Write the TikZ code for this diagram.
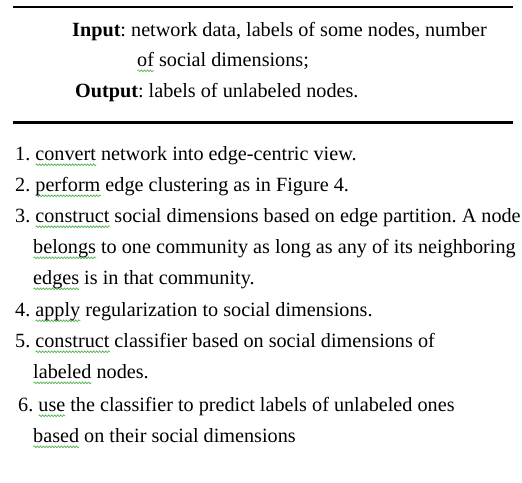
\documentclass[tikz,border=0pt]{standalone}
\usepackage{fontspec}
\setmainfont{Liberation Serif}
\usetikzlibrary{positioning,decorations.pathmorphing}

\definecolor{spellgreen}{RGB}{60,170,60}
\newlength\spellwd
% wavy spell-check underline
\newcommand\spell[1]{\settowidth\spellwd{#1}\rlap{\tikz[baseline=0pt]\draw[spellwave] (0pt,-4.8pt) -- (\spellwd,-4.8pt);}#1}

\tikzset{
  line/.style={anchor=base west,inner sep=0pt,font=\fontsize{20.2}{24}\selectfont},
  rule/.style={line width=2.6pt},
  spellwave/.style={spellgreen,line width=0.6pt,decorate,
    decoration={snake,amplitude=0.9pt,segment length=3pt}}
}

\begin{document}
\frenchspacing
\begin{tikzpicture}[x=1pt,y=-1pt]
  \useasboundingbox (0,0) rectangle (522,482);

  % Header rules
  \draw[rule] (13,7) -- (513,7);
  \draw[rule] (13,122.5) -- (513,122.5);

  % Input / output
  \node[line] (input) at (72,36) {\textbf{Input}: network data, labels of some nodes, number};
  \node[line] (inputb) at (137,66) {\spell{of} social dimensions;};
  \node[line] (output) at (75,97) {\textbf{Output}: labels of unlabeled nodes.};

  % Steps
  \node[line] (step1) at (15,160) {1. \spell{convert} network into edge-centric view.};
  \node[line] (step2) at (15,191) {2. \spell{perform} edge clustering as in Figure 4.};
  \node[line] (step3) at (15,222) {3. \spell{construct} social dimensions based on edge partition. A node};
  \node[line] (step3b) at (33,253) {\spell{belongs} to one community as long as any of its neighboring};
  \node[line] (step3c) at (33,284) {\spell{edges} is in that community.};
  \node[line] (step4) at (15,316) {4. \spell{apply} regularization to social dimensions.};
  \node[line] (step5) at (15,347) {5. \spell{construct} classifier based on social dimensions of};
  \node[line] (step5b) at (33,378) {\spell{labeled} nodes.};
  \node[line] (step6) at (18,411) {6. \spell{use} the classifier to predict labels of unlabeled ones};
  \node[line] (step6b) at (33,442) {\spell{based} on their social dimensions};
\end{tikzpicture}
\end{document}
